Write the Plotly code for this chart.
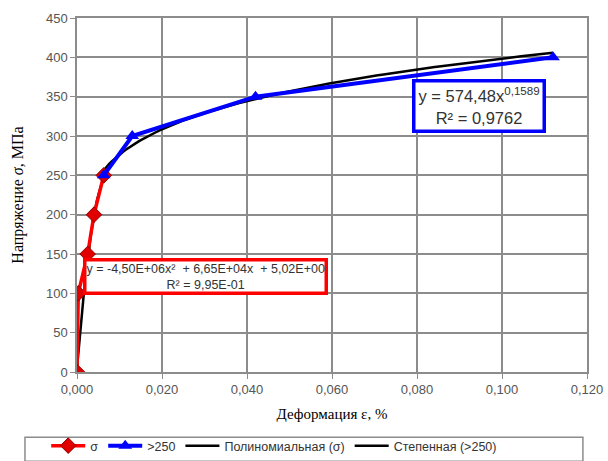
import numpy as np
import plotly.graph_objects as go

# --- data ---
sigma_x = [0.0, 0.0003, 0.0025, 0.0040, 0.0063]
sigma_y = [0, 100, 150, 200, 250]

hi_x = [0.0063, 0.013, 0.042, 0.112]
hi_y = [250, 300, 350, 400]

# trendline coefficients as printed on the chart
poly_a, poly_b, poly_c = -4.50e6, 6.65e4, 5.02
pow_k, pow_n = 574.48, 0.1589

x_ticks = [0, 0.02, 0.04, 0.06, 0.08, 0.10, 0.12]
y_ticks = [0, 50, 100, 150, 200, 250, 300, 350, 400, 450]

poly_x = np.linspace(0, 0.0066, 40)
poly_y = poly_a * poly_x**2 + poly_b * poly_x + poly_c
pow_x = np.linspace(0.0055, 0.112, 200)
pow_y = pow_k * pow_x**pow_n

fig = go.Figure()
fig.add_trace(go.Scatter(x=poly_x, y=poly_y, mode="lines", name="Полиномиальная (σ)",
                         line=dict(color="#000000", width=2.5), legendrank=3))
fig.add_trace(go.Scatter(x=pow_x, y=pow_y, mode="lines", name="Степенная (>250)",
                         line=dict(color="#000000", width=2.5), legendrank=4))
fig.add_trace(go.Scatter(x=sigma_x, y=sigma_y, mode="lines+markers", name="σ",
                         line=dict(color="#ff0000", width=3.5), legendrank=1,
                         marker=dict(symbol="diamond", size=12, color="#e00000",
                                     line=dict(color="#900000", width=1))))
fig.add_trace(go.Scatter(x=hi_x, y=hi_y, mode="lines+markers", name=">250",
                         line=dict(color="#0000ff", width=4), legendrank=2,
                         marker=dict(symbol="triangle-up", size=12, color="#0000ff")))

axis_common = dict(showgrid=True, gridcolor="#8c8c8c", gridwidth=1.5,
                   showline=True, linecolor="#8c8c8c", linewidth=1.5, mirror=True,
                   zeroline=False, ticks="outside", ticklen=5, tickcolor="#8c8c8c",
                   automargin=False,
                   tickfont=dict(family="Liberation Sans, Arial", size=13, color="#555555"))

fig.update_layout(
    width=608, height=461,
    margin=dict(l=77, r=21, t=18, b=89),
    paper_bgcolor="white", plot_bgcolor="white",
    separators=", ",
    showlegend=True,
    legend=dict(orientation="h", xref="container", x=0.076, xanchor="left",
                yref="container", y=-0.008, yanchor="bottom",
                font=dict(family="Liberation Sans, Arial", size=12.5, color="#333333"),
                bgcolor="rgba(0,0,0,0)", traceorder="normal", itemwidth=34),
    xaxis=dict(range=[0, 0.12], tickvals=x_ticks, tickformat=".3f",
               title=dict(text="Деформация ε, %", standoff=12,
                          font=dict(family="Liberation Serif, Times New Roman", size=15, color="#000000")),
               **axis_common),
    yaxis=dict(range=[0, 450], tickvals=y_ticks,
               title=dict(text="Напряжение <i>σ</i>, МПа", standoff=18,
                          font=dict(family="Liberation Serif, Times New Roman", size=16, color="#000000")),
               **axis_common),
)

# legend frame
fig.add_shape(type="rect", xref="paper", yref="paper",
              x0=-0.102, x1=0.992, y0=-0.252, y1=-0.184,
              line=dict(color="#8c8c8c", width=1.5), fillcolor="rgba(0,0,0,0)")

fig.add_annotation(xref="x", yref="y", x=0.0302, y=122,
                   text="y = -4,50E+06x²&nbsp; + 6,65E+04x&nbsp; + 5,02E+00<br>R² = 9,95E-01",
                   showarrow=False, align="center",
                   font=dict(family="Liberation Sans, Arial", size=12.5, color="#333333"),
                   bgcolor="white", bordercolor="#ff0000", borderwidth=3.5, borderpad=0)
fig.add_annotation(xref="x", yref="y", x=0.0945, y=338,
                   text="y = 574,48x<sup>0,1589</sup><br>R² = 0,9762",
                   showarrow=False, align="center",
                   font=dict(family="Liberation Sans, Arial", size=16.5, color="#333333"),
                   bgcolor="white", bordercolor="#0000ff", borderwidth=3.5, borderpad=3)

fig.write_html("out.html", post_script="document.body.style.margin='0';",
               config={"displayModeBar": False})
